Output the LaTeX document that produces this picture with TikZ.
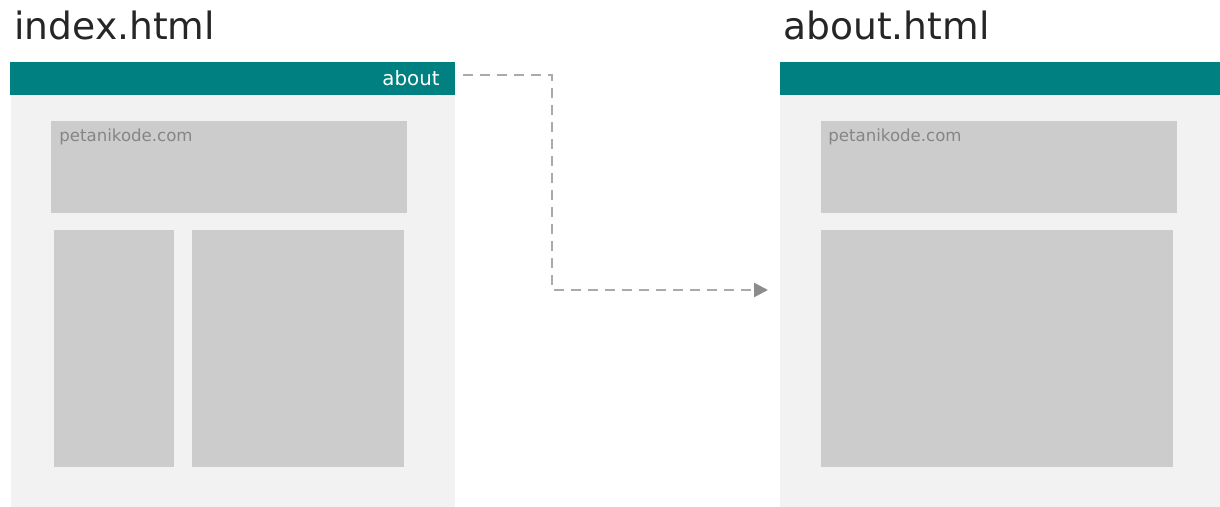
\documentclass[tikz,border=0pt]{standalone}
\usepackage{fontspec}
\setmainfont{DejaVu Sans}
\usetikzlibrary{fit,positioning,calc,arrows.meta}
\definecolor{barteal}{HTML}{008080}
\definecolor{pagegray}{HTML}{F2F2F2}
\definecolor{blockgray}{HTML}{CCCCCC}
\definecolor{linkgray}{HTML}{AAAAAA}
\definecolor{tipgray}{HTML}{8C8C8C}
\definecolor{labelgray}{HTML}{858585}
\newcommand{\titlefont}{\fontsize{18.8}{22}\selectfont}
\tikzset{
  page/.style={fill=pagegray, inner sep=0pt},
  topbar/.style={fill=barteal, inner sep=0pt},
  block/.style={fill=blockgray, inner sep=0pt},
  pagetitle/.style={anchor=base west, inner sep=0pt, text=black!85, font=\titlefont},
  sitename/.style={anchor=base west, inner sep=0pt, text=labelgray, font=\fontsize{8.3}{10}\selectfont},
  menulink/.style={anchor=base east, inner sep=0pt, text=white, font=\fontsize{9.9}{12}\selectfont},
  link/.style={draw=linkgray, line width=1.2pt, dash pattern=on 5pt off 3.5pt,
    -{Triangle[length=7pt,width=7pt,color=tipgray]}}
}
\begin{document}
\begin{tikzpicture}[x=0.5pt,y=-0.5pt]
  \useasboundingbox (0,0) rectangle (1220,507);

  % index.html
  \node[pagetitle] (idxtitle) at (14,40) {index.html};
  \node[page,   fit={(11,62) (455,507)}]  (idxpage) {};
  \node[topbar, fit={(10,62) (455,95)}]   (idxbar) {};
  \node[block,  fit={(51,121) (407,213)}] (idxhead) {};
  \node[block,  fit={(54,230) (174,467)}] (idxside) {};
  \node[block,  fit={(192,230) (404,467)}] (idxmain) {};
  \node[menulink] (idxlink) at (440,86) {about};
  \node[sitename] (idxsite) at (59,142) {petanikode.com};

  % about.html
  \node[pagetitle] (abttitle) at (783,40) {about.html};
  \node[page,   fit={(780,62) (1220,507)}]  (abtpage) {};
  \node[topbar, fit={(780,62) (1220,95)}]   (abtbar) {};
  \node[block,  fit={(821,121) (1177,213)}] (abthead) {};
  \node[block,  fit={(821,230) (1173,467)}] (abtmain) {};
  \node[sitename] (abtsite) at (828,142) {petanikode.com};

  % link from the menu to the other page
  \coordinate (linkstart) at (463,75);
  \coordinate (linkend) at (768,290);
  \draw[link] (linkstart) -- (552,75) |- (linkend);
\end{tikzpicture}
\end{document}
